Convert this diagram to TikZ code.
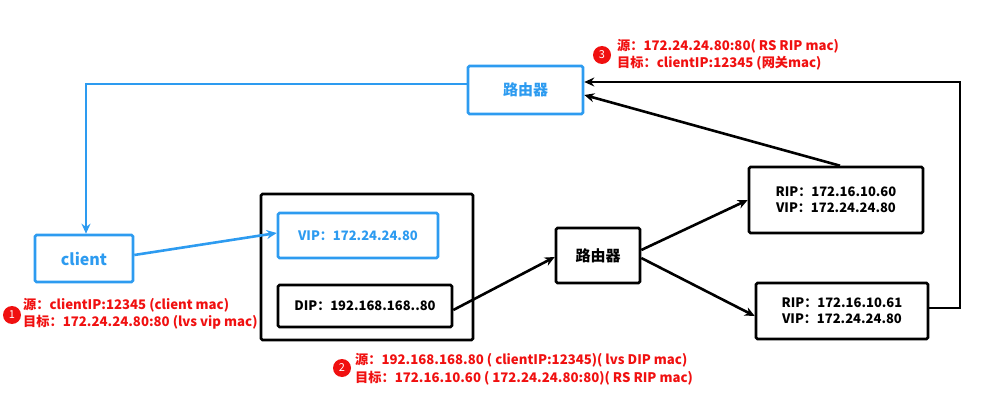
\documentclass[tikz,border=0pt]{standalone}
\usepackage{fontspec}
\setmainfont{Noto Sans CJK SC}
\usetikzlibrary{arrows.meta}
\definecolor{lblue}{HTML}{2D9BF0}
\definecolor{lred}{HTML}{F01010}
\tikzset{
  box/.style={draw=black, line width=2.6pt, rounded corners=1.5pt, font=\bfseries\fontsize{13}{16}\selectfont, align=center, inner sep=0pt},
  bbox/.style={box, draw=lblue, text=lblue},
  router/.style={font=\bfseries\fontsize{15}{18}\selectfont},
  wire/.style={line width=2.6pt, -{Stealth[length=10pt,width=9pt]}},
  bwire/.style={wire, draw=lblue},
  note/.style={text=lred, font=\bfseries\fontsize{13.2}{17.5}\selectfont, align=left, anchor=west, inner sep=0pt},
  badge/.style={circle, fill=lred, text=white, inner sep=0pt, minimum size=18pt, font=\fontsize{11}{11}\selectfont}
}
\begin{document}
\begin{tikzpicture}[x=1pt,y=-1pt]
\useasboundingbox (0,0) rectangle (994,420);
% boxes
\node[bbox, router, minimum width=115pt, minimum height=48pt] (r1) at (525.5,90) {路由器};
\node[bbox, minimum width=98pt, minimum height=47pt, font=\bfseries\fontsize{16}{18}\selectfont] (client) at (84,258.5) {client};
\node[box, minimum width=212pt, minimum height=146pt] (lvs) at (367,267) {};
\node[bbox, minimum width=160pt, minimum height=45pt] (vip) at (358,235.5) {VIP：172.24.24.80};
\node[box, minimum width=174pt, minimum height=42pt] (dip) at (365,306) {DIP：192.168.168..80};
\node[box, router, minimum width=84pt, minimum height=55pt] (r2) at (598,255.5) {路由器};
\node[box, minimum width=174pt, minimum height=66pt] (rs1) at (836,200) {RIP：172.16.10.60\\VIP：172.24.24.80};
\node[box, minimum width=172pt, minimum height=56pt] (rs2) at (842,311) {RIP：172.16.10.61\\VIP：172.24.24.80};
% connectors
\coordinate (c1) at (86,84);
\draw[bwire] (r1.west |- 0,84) -- (c1) -- (client.north -| c1);
\draw[bwire] (client.east |- 0,255) -- (vip.west |- 0,233);
\draw[wire] (dip.east |- 0,310) -- (r2.west |- 0,257);
\draw[wire] (r2.east |- 0,250) -- (rs1.west |- 0,200);
\draw[wire] (r2.east |- 0,258) -- (rs2.west |- 0,316);
\draw[wire] (rs1.north -| 840,0) -- (r1.east |- 0,95);
\coordinate (c2) at (960,308);
\coordinate (c3) at (960,82);
\draw[wire] (rs2.east |- c2) -- (c2) -- (c3) -- (r1.east |- c3);
% notes
\node[badge] (b3) at (602,55) {3};
\node[note] (n3) at (617,55) {源：172.24.24.80:80( RS RIP mac)\\目标：clientIP:12345 (网关mac)};
\node[badge] (b1) at (12,315) {1};
\node[note] (n1) at (23,314) {源：clientIP:12345 (client mac)\\目标：172.24.24.80:80 (lvs vip mac)};
\node[badge] (b2) at (342,368) {2};
\node[note] (n2) at (355,369) {源：192.168.168.80 ( clientIP:12345)( lvs DIP mac)\\目标：172.16.10.60 ( 172.24.24.80:80)( RS RIP mac)};
\end{tikzpicture}
\end{document}
